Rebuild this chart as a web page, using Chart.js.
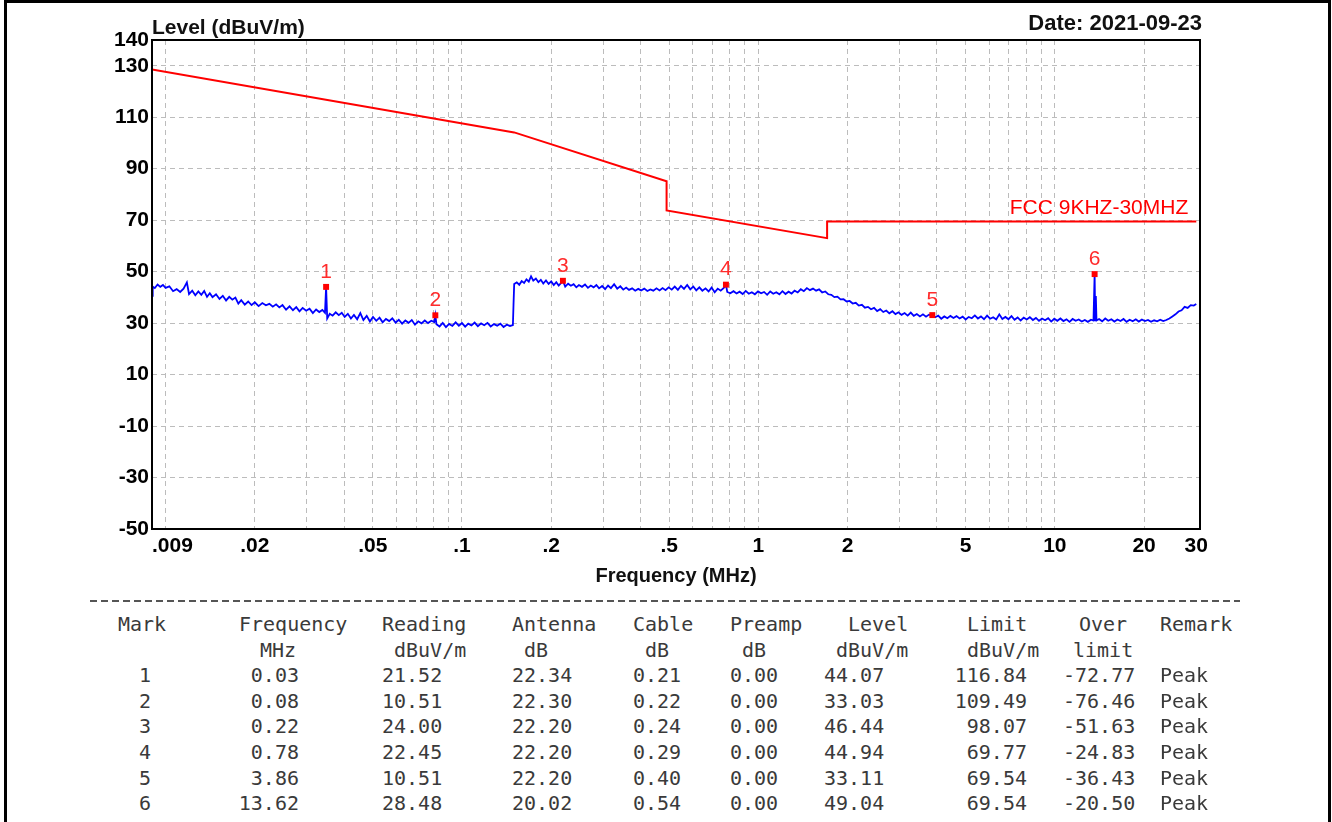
<!DOCTYPE html>
<html>
<head>
<meta charset="utf-8">
<title>Level 9kHz-30MHz</title>
<script src="https://cdn.jsdelivr.net/npm/chart.js@4.4.0/dist/chart.umd.min.js"></script>
<style>
  body { margin: 0; background: #fff; }
  #page { position: relative; width: 1332px; height: 822px; overflow: hidden; font-family: "Liberation Sans", Arial, sans-serif; }
  #chart { position: absolute; left: 0; top: 0; }
  #frame { position: absolute; left: 4px; top: 0; width: 1327px; height: 840px; box-sizing: border-box; border: 3px solid #000; border-bottom: none; }
  .cap { position: absolute; font-weight: bold; line-height: 1; color: #111; white-space: nowrap; }
  #ytitle { left: 152px; top: 16px; font-size: 21px; }
  #date { right: 130px; top: 12px; font-size: 22px; }
  #sep { position: absolute; left: 90px; top: 600px; width: 1150px; height: 2px;
         background: repeating-linear-gradient(to right, #555 0 7px, transparent 7px 11px); }
  #table { position: absolute; left: 0; top: 612px; width: 1332px; height: 210px;
           font-family: "DejaVu Sans Mono", "Liberation Mono", monospace; font-size: 20px; color: #3a3a3a; }
  .cell { position: absolute; white-space: pre; line-height: 25.6px; }
</style>
</head>
<body>
<div id="page">
  <canvas id="chart" width="1332" height="595"></canvas>
  <div class="cap" id="ytitle">Level (dBuV/m)</div>
  <div class="cap" id="date">Date: 2021-09-23</div>
  <div id="sep"></div>
  <div id="table"></div>
  <div id="frame"></div>
</div>
<script>
// limit line (FCC part 15.209 converted to 3 m)
const limitName = "FCC 9KHZ-30MHZ";
const limitFreq = [0.009, 0.15, 0.49, 0.49, 1.705, 1.705, 30];
const limitLevel = [128.5, 104.1, 85.1, 73.8, 63.0, 69.5, 69.5];

const traceFreq = [
  0.0090, 0.00905, 0.0092, 0.0094, 0.0096, 0.0098, 0.0100, 0.0103, 0.0106, 0.0109,
  0.0112, 0.0115, 0.0118, 0.0120, 0.0123, 0.0126, 0.0129, 0.0132, 0.0135, 0.0138,
  0.0141, 0.0144, 0.0148, 0.0152, 0.0156, 0.0160, 0.0164, 0.0168, 0.0172, 0.0176,
  0.0180, 0.0185, 0.0190, 0.0195, 0.0200, 0.0206, 0.0212, 0.0218, 0.0224, 0.0230,
  0.0236, 0.0242, 0.0248, 0.0255, 0.0262, 0.0269, 0.0276, 0.0283, 0.0290, 0.0298,
  0.0306, 0.0314, 0.0322, 0.0330, 0.0338, 0.0345, 0.0348, 0.0351, 0.0358, 0.0366,
  0.0375, 0.0384, 0.0393, 0.0402, 0.0412, 0.0422, 0.0432, 0.0443, 0.0454, 0.0465,
  0.0477, 0.0489, 0.0501, 0.0514, 0.0527, 0.0540, 0.0554, 0.0568, 0.0582, 0.0597,
  0.0612, 0.0628, 0.0644, 0.0660, 0.0677, 0.0694, 0.0712, 0.0730, 0.0749, 0.0768,
  0.0788, 0.0806, 0.0813, 0.0820, 0.0840, 0.0861, 0.0883, 0.0905, 0.0928, 0.0952,
  0.0976, 0.1000, 0.1025, 0.1050, 0.1076, 0.1103, 0.1131, 0.1160, 0.1189, 0.1219,
  0.1250, 0.1282, 0.1314, 0.1347, 0.1381, 0.1416, 0.1452, 0.1485, 0.1492, 0.1500,
  0.1530, 0.1560, 0.1590, 0.1620, 0.1650, 0.1680, 0.1710, 0.1740, 0.1775, 0.1810,
  0.1845, 0.1880, 0.1920, 0.1960, 0.2000, 0.2040, 0.2080, 0.2120, 0.2160, 0.2190,
  0.2230, 0.2280, 0.2330, 0.2380, 0.2430, 0.2480, 0.2540, 0.2600, 0.2660, 0.2720,
  0.2780, 0.2840, 0.2900, 0.2970, 0.3040, 0.3110, 0.3180, 0.3260, 0.3340, 0.3420,
  0.3500, 0.3580, 0.3660, 0.3750, 0.3840, 0.3930, 0.4020, 0.4120, 0.4220, 0.4320,
  0.4420, 0.4530, 0.4640, 0.4750, 0.4860, 0.4980, 0.5100, 0.5220, 0.5350, 0.5480,
  0.5610, 0.5750, 0.5890, 0.6030, 0.6170, 0.6320, 0.6470, 0.6630, 0.6790, 0.6950,
  0.7120, 0.7290, 0.7460, 0.7640, 0.7770, 0.7850, 0.8040, 0.8240, 0.8440, 0.8640,
  0.8850, 0.9060, 0.9280, 0.9500, 0.9730, 0.9970, 1.0210, 1.0450, 1.0700, 1.0960,
  1.1220, 1.1490, 1.1770, 1.2050, 1.2340, 1.2640, 1.2940, 1.3250, 1.3570, 1.3900,
  1.4230, 1.4570, 1.4920, 1.5280, 1.5650, 1.6020, 1.6410, 1.6800, 1.7200, 1.7620,
  1.8040, 1.8470, 1.8920, 1.9370, 1.9840, 2.0310, 2.0800, 2.1300, 2.1810, 2.2340,
  2.2870, 2.3420, 2.3980, 2.4560, 2.5150, 2.5750, 2.6370, 2.7000, 2.7650, 2.8320,
  2.9000, 2.9690, 3.0400, 3.1130, 3.1880, 3.2650, 3.3430, 3.4230, 3.5060, 3.5900,
  3.6760, 3.7640, 3.8600, 3.9460, 4.0410, 4.1380, 4.2370, 4.3390, 4.4430, 4.5500,
  4.6590, 4.7710, 4.8860, 5.0030, 5.1230, 5.2460, 5.3720, 5.5010, 5.6330, 5.7680,
  5.9070, 6.0490, 6.1940, 6.3430, 6.4950, 6.6510, 6.8110, 6.9740, 7.1420, 7.3130,
  7.4890, 7.6690, 7.8530, 8.0410, 8.2340, 8.4320, 8.6350, 8.8420, 9.0540, 9.2720,
  9.4940, 9.7220, 9.9560, 10.195, 10.440, 10.691, 10.948, 11.211, 11.480, 11.756,
  12.038, 12.327, 12.623, 12.926, 13.237, 13.500, 13.620, 13.680, 13.750, 13.820,
  14.100, 14.440, 14.790, 15.140, 15.510, 15.880, 16.260, 16.650, 17.050, 17.460,
  17.880, 18.310, 18.750, 19.200, 19.660, 20.130, 20.620, 21.110, 21.620, 22.140,
  22.670, 23.210, 23.770, 24.340, 24.920, 25.520, 26.140, 26.760, 27.400, 28.060,
  28.740, 29.430, 30.000
];
const traceLevel = [
  40.6, 44.2, 43.6, 45.0, 44.1, 44.8, 43.7, 44.3, 42.4, 43.2,
  42.1, 43.4, 45.8, 41.3, 42.6, 40.8, 42.3, 41.0, 42.5, 40.2,
  41.6, 40.1, 41.2, 39.4, 40.6, 38.8, 40.2, 39.1, 39.9, 37.6,
  38.9, 37.2, 38.4, 37.0, 38.1, 36.6, 37.8, 36.9, 37.5, 36.4,
  37.3, 36.1, 37.0, 35.2, 36.5, 35.0, 36.2, 34.6, 35.9, 34.8,
  35.6, 33.9, 35.3, 34.3, 35.1, 34.0, 44.07, 31.8, 33.6, 32.9,
  34.2, 33.1, 34.0, 32.4, 33.6, 31.8, 33.2, 31.5, 33.9, 31.2,
  32.8, 30.6, 32.4, 30.9, 32.1, 30.3, 31.6, 30.8, 31.9, 30.2,
  31.3, 29.8, 31.0, 30.1, 31.2, 29.4, 30.7, 29.9, 31.0, 30.0,
  30.9, 30.4, 33.03, 29.6, 28.7, 30.1, 28.4, 29.7, 28.9, 30.3,
  29.0, 30.0, 28.6, 29.8, 29.1, 30.2, 28.8, 29.9, 29.2, 30.1,
  28.7, 29.6, 29.0, 29.8, 28.5, 29.4, 28.9, 29.2, 37.0, 45.2,
  45.8, 44.9, 46.3, 45.6, 47.0, 46.1, 48.2, 46.5, 47.3, 45.9,
  46.8, 45.4, 46.6, 45.2, 46.2, 44.8, 45.9, 44.6, 45.6, 46.44,
  44.2, 45.3, 44.5, 45.1, 43.9, 44.8, 44.1, 45.0, 43.7, 44.6,
  43.9, 44.8, 43.5, 44.4, 43.2, 44.6, 43.6, 45.1, 43.4, 44.3,
  43.0, 43.8, 42.9, 43.5, 42.6, 43.3, 42.7, 43.4, 42.5, 43.1,
  42.6, 43.5, 42.7, 43.6, 42.8, 43.9, 43.0, 44.2, 42.9, 44.5,
  43.3, 44.8, 43.1, 44.2, 42.7, 43.9, 42.6, 43.5, 42.3, 43.8,
  42.0, 43.4, 42.6, 43.7, 44.94, 42.1, 41.6, 42.4, 41.5, 42.2,
  41.3, 42.5, 41.4, 42.0, 41.2, 42.3, 41.6, 42.1, 41.0, 42.3,
  41.4, 42.0, 41.2, 42.4, 41.3, 42.2, 41.5, 42.6, 41.9, 43.2,
  42.4, 43.6, 42.8, 43.4, 42.6, 43.1, 41.9, 42.3, 41.2, 41.0,
  40.1, 40.3, 39.2, 39.3, 38.4, 38.6, 37.6, 37.9, 36.8, 37.1,
  36.0, 36.3, 35.4, 35.9, 34.7, 35.4, 34.3, 34.9, 33.8, 34.6,
  33.5, 34.2, 33.2, 33.9, 32.9, 34.1, 32.8, 33.5, 32.6, 33.4,
  32.5, 33.3, 33.11, 32.3, 32.9, 31.7, 32.6, 31.9, 32.8, 32.0,
  32.7, 31.8, 32.5, 31.4, 32.4, 31.9, 33.0, 31.8, 32.6, 31.5,
  32.9, 31.7, 32.3, 31.4, 33.4, 31.6, 32.4, 31.5, 32.7, 31.3,
  32.2, 31.0, 32.1, 31.4, 32.3, 31.2, 32.0, 30.9, 31.8, 31.1,
  31.9, 30.6, 31.7, 30.9, 31.8, 30.8, 31.5, 30.5, 31.6, 30.9,
  31.4, 30.6, 31.2, 30.5, 31.3, 31.0, 49.04, 31.2, 40.5, 31.0,
  31.6, 30.7, 31.8, 30.9, 31.5, 30.6, 31.4, 30.8, 31.6, 30.5,
  31.3, 30.7, 31.5, 30.6, 31.4, 30.8, 31.2, 30.5, 31.1, 30.7,
  31.3, 30.8, 31.2, 31.8, 32.6, 33.4, 34.5, 35.0, 36.3, 35.9,
  37.0, 36.8, 37.4
];

// marked peaks
const markNo = ["1", "2", "3", "4", "5", "6"];
const markFreq = [0.0348, 0.0813, 0.219, 0.777, 3.86, 13.62];
const markLevel = [44.07, 33.03, 46.44, 44.94, 33.11, 49.04];

// table columns
const freqText = ["0.03", "0.08", "0.22", "0.78", "3.86", "13.62"];
const reading = [21.52, 10.51, 24.00, 22.45, 10.51, 28.48];
const antenna = [22.34, 22.30, 22.20, 22.20, 22.20, 20.02];
const cable = [0.21, 0.22, 0.24, 0.29, 0.40, 0.54];
const preamp = [0.00, 0.00, 0.00, 0.00, 0.00, 0.00];
const limitAt = [116.84, 109.49, 98.07, 69.77, 69.54, 69.54];
const overLimit = [-72.77, -76.46, -51.63, -24.83, -36.43, -20.50];
const remark = ["Peak", "Peak", "Peak", "Peak", "Peak", "Peak"];

// axis ticks
const xGridVals = [0.01, 0.02, 0.03, 0.04, 0.05, 0.06, 0.07, 0.08, 0.09,
  0.1, 0.2, 0.3, 0.4, 0.5, 0.6, 0.7, 0.8, 0.9, 1, 2, 3, 4, 5, 6, 7, 8, 9, 10, 20];
const xLabelVals = [0.009, 0.02, 0.05, 0.1, 0.2, 0.5, 1, 2, 5, 10, 20, 30];
const xLabelText = ["       .009", ".02", ".05", ".1", ".2", ".5", "1", "2", "5", "10", "20", "30"];
const yTickVals = [-50, -30, -10, 10, 30, 50, 70, 90, 110, 130, 140];

const sameVal = (a, b) => Math.abs(a - b) < b * 1e-6 + 1e-9;
const gridColor = "#bcbcbc";
const tickFont = { family: '"Liberation Sans", Arial, sans-serif', size: 21, weight: "bold" };

const xAll = xGridVals.concat([0.009, 30]).sort((a, b) => a - b);

const overlay = {
  id: "overlay",
  afterDatasetsDraw(chart) {
    const { ctx, chartArea: a, scales: { x, y } } = chart;
    ctx.save();
    // mark numbers
    ctx.font = '21px "Liberation Sans", Arial, sans-serif';
    ctx.fillStyle = "#ff2b2b";
    ctx.textAlign = "center";
    ctx.textBaseline = "middle";
    markFreq.forEach((f, i) => {
      ctx.fillText(markNo[i], x.getPixelForValue(f), y.getPixelForValue(markLevel[i]) - 15);
    });
    // limit name
    ctx.fillStyle = "#ff0000";
    ctx.textAlign = "right";
    ctx.textBaseline = "alphabetic";
    const n = limitFreq.length - 1;
    ctx.fillText(limitName, x.getPixelForValue(limitFreq[n]) - 8, y.getPixelForValue(limitLevel[n]) - 7);
    // plot frame
    ctx.strokeStyle = "#000";
    ctx.lineWidth = 2;
    ctx.strokeRect(a.left, a.top, a.right - a.left, a.bottom - a.top);
    ctx.restore();
  }
};

new Chart(document.getElementById("chart"), {
  type: "line",
  data: {
    datasets: [
      {
        label: "Mark",
        type: "scatter",
        data: markFreq.map((f, i) => ({ x: f, y: markLevel[i] })),
        pointStyle: "rect",
        pointRadius: 4.2,
        backgroundColor: "#ff0000",
        borderWidth: 0,
        order: 0
      },
      {
        label: "Level",
        data: traceFreq.map((f, i) => ({ x: f, y: traceLevel[i] })),
        borderColor: "#0000ff",
        borderWidth: 1.8,
        pointRadius: 0,
        tension: 0,
        order: 1
      },
      {
        label: limitName,
        data: limitFreq.map((f, i) => ({ x: f, y: limitLevel[i] })),
        borderColor: "#ff0000",
        borderWidth: 2,
        pointRadius: 0,
        tension: 0,
        order: 2
      }
    ]
  },
  options: {
    responsive: false,
    animation: false,
    devicePixelRatio: 1,
    layout: { padding: { top: 40, right: 132, bottom: 0, left: 0 } },
    plugins: { legend: { display: false }, tooltip: { enabled: false } },
    scales: {
      x: {
        type: "logarithmic",
        min: 0.009,
        max: 30.88,
        afterBuildTicks: s => { s.ticks = xAll.map(v => ({ value: v })); },
        afterFit: s => { s.height = 66; },
        grid: {
          drawTicks: false,
          lineWidth: 1,
          color: c => (c.tick && xGridVals.some(v => sameVal(c.tick.value, v))) ? gridColor : "rgba(0,0,0,0)"
        },
        border: { display: false, dash: [5, 4] },
        ticks: {
          autoSkip: false,
          maxRotation: 0,
          padding: 5,
          color: "#000",
          font: tickFont,
          callback: v => {
            const i = xLabelVals.findIndex(t => sameVal(v, t));
            return i < 0 ? "" : xLabelText[i];
          }
        },
        title: {
          display: true,
          text: "Frequency (MHz)",
          color: "#111",
          font: { family: '"Liberation Sans", Arial, sans-serif', size: 20, weight: "bold" },
          padding: { top: 0, bottom: 7 }
        }
      },
      y: {
        min: -50,
        max: 140,
        afterBuildTicks: s => { s.ticks = yTickVals.map(v => ({ value: v })); },
        afterFit: s => { s.width = 152; },
        grid: {
          drawTicks: false,
          lineWidth: 1,
          color: c => (c.tick && c.tick.value > -50 && c.tick.value < 140) ? gridColor : "rgba(0,0,0,0)"
        },
        border: { display: false, dash: [5, 4] },
        ticks: { padding: 3, color: "#000", font: tickFont }
      }
    }
  },
  plugins: [overlay]
});

// result table below the plot
const columns = [
  { head: ["Mark", ""], hx: [118, 0], vals: markNo, vx: 139, right: false },
  { head: ["Frequency", "MHz"], hx: [239, 260], vals: freqText, vx: 299, right: true },
  { head: ["Reading", "dBuV/m"], hx: [382, 394], vals: reading.map(v => v.toFixed(2)), vx: 382, right: false },
  { head: ["Antenna", "dB"], hx: [512, 524], vals: antenna.map(v => v.toFixed(2)), vx: 512, right: false },
  { head: ["Cable", "dB"], hx: [633, 645], vals: cable.map(v => v.toFixed(2)), vx: 633, right: false },
  { head: ["Preamp", "dB"], hx: [730, 742], vals: preamp.map(v => v.toFixed(2)), vx: 730, right: false },
  { head: ["Level", "dBuV/m"], hx: [848, 836], vals: markLevel.map(v => v.toFixed(2)), vx: 824, right: false },
  { head: ["Limit", "dBuV/m"], hx: [967, 967], vals: limitAt.map(v => v.toFixed(2)), vx: 1027, right: true },
  { head: ["Over", "limit"], hx: [1079, 1073], vals: overLimit.map(v => v.toFixed(2)), vx: 1063, right: false },
  { head: ["Remark", ""], hx: [1160, 0], vals: remark, vx: 1160, right: false }
];
const rowH = 25.6;
const table = document.getElementById("table");
function addCell(text, x, row, right) {
  if (!text) return;
  const d = document.createElement("div");
  d.className = "cell";
  d.textContent = text;
  d.style.top = (row * rowH) + "px";
  if (right) d.style.right = (1332 - x) + "px"; else d.style.left = x + "px";
  table.appendChild(d);
}
columns.forEach(c => {
  addCell(c.head[0], c.hx[0], 0, false);
  addCell(c.head[1], c.hx[1], 1, false);
  c.vals.forEach((v, i) => addCell(v, c.vx, i + 2, c.right));
});
</script>
</body>
</html>
